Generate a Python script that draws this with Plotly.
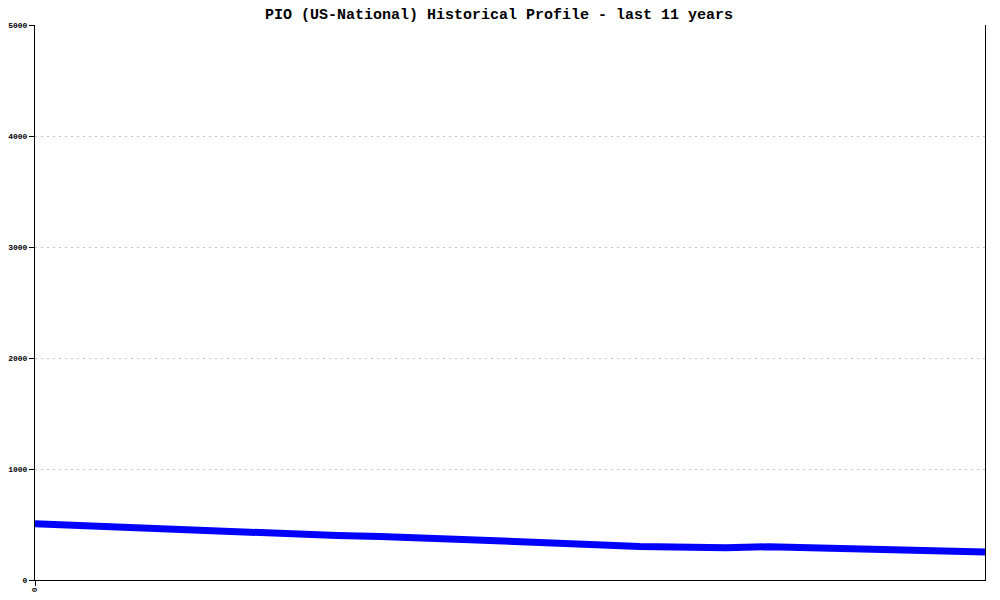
import plotly.graph_objects as go

# half-year samples over the last 11 years
period_index = list(range(23))
population = [507, 490, 472, 454, 437, 420, 402, 400, 393, 381, 360, 351,
              342, 318, 301, 288, 290, 300, 292, 280, 268, 258, 252]

y_ticks = [0, 1000, 2000, 3000, 4000, 5000]
x_ticks = [0]
x_tick_text = ["0"]

MONO = "Liberation Mono, DejaVu Sans Mono, monospace"

# page body adds an 8px offset, so the figure is sized to fit the window
fig = go.Figure()
fig.add_trace(
    go.Scatter(
        x=period_index,
        y=population,
        mode="lines",
        line=dict(color="#0000ff", width=7),
        hoverinfo="skip",
    )
)

fig.update_layout(
    width=992,
    height=592,
    margin=dict(l=27, r=15, t=17, b=20, autoexpand=False),
    paper_bgcolor="white",
    plot_bgcolor="white",
    showlegend=False,
    title=dict(
        text="<b>PIO (US-National) Historical Profile - last 11 years</b>",
        x=491 / 992,
        xanchor="center",
        xref="container",
        yref="container",
        y=1,
        yanchor="top",
        pad=dict(t=0, b=0),
        automargin=False,
        font=dict(family=MONO, size=15, color="black"),
    ),
)

fig.update_xaxes(
    range=[0, 22],
    tickvals=x_ticks,
    ticktext=x_tick_text,
    tickangle=90,
    ticks="outside",
    ticklen=5,
    tickcolor="black",
    tickfont=dict(family=MONO, size=8, color="black", weight="bold"),
    showgrid=False,
    zeroline=False,
    showline=True,
    linecolor="black",
    linewidth=1,
    automargin=False,
)
fig.update_yaxes(
    range=[0, 5000],
    tickvals=y_ticks,
    ticks="outside",
    ticklen=5,
    tickcolor="black",
    tickfont=dict(family=MONO, size=8, color="black", weight="bold"),
    showgrid=True,
    gridcolor="#c0c0c0",
    griddash="2px,4px",
    gridwidth=1,
    zeroline=False,
    showline=True,
    mirror=True,
    linecolor="black",
    linewidth=1,
    automargin=False,
)

fig.write_html("out.html")
